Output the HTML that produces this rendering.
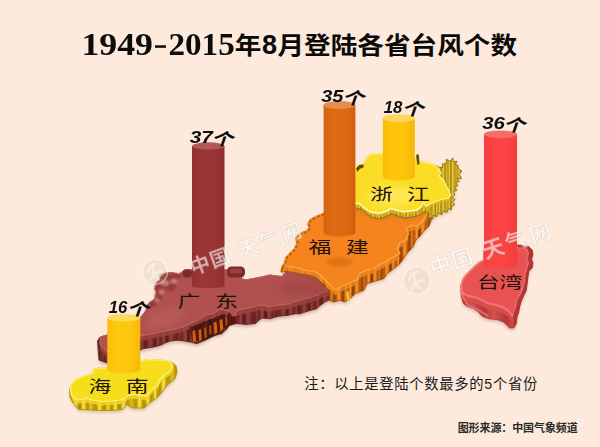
<!DOCTYPE html>
<html lang="zh"><head><meta charset="utf-8"><title>1949-2015年8月登陆各省台风个数</title>
<style>html,body{margin:0;padding:0;background:#fdeadc;}body{width:600px;height:447px;overflow:hidden;font-family:"Liberation Sans",sans-serif;}svg{display:block}text{font-family:"Liberation Sans",sans-serif}.ser{font-family:"Liberation Serif",serif}.cjk{font-family:"Liberation Sans","Noto Sans CJK SC",sans-serif}</style>
</head><body>
<svg width="600" height="447" viewBox="0 0 600 447" role="img" aria-label="1949-2015年8月登陆各省台风个数">
<defs>
<linearGradient id="rg_gd" x1="0" x2="1" y1="0" y2="0"><stop offset="0" stop-color="#6a2321"/><stop offset="0.45" stop-color="#9a4240"/><stop offset="0.75" stop-color="#7c2d2b"/><stop offset="1" stop-color="#6a2321"/></linearGradient>
<pattern id="rp_gd" width="7" height="40" patternUnits="userSpaceOnUse"><rect width="7" height="40" fill="url(#rg_gd)"/></pattern>
<linearGradient id="rg_fj" x1="0" x2="1" y1="0" y2="0"><stop offset="0" stop-color="#b04c08"/><stop offset="0.45" stop-color="#fa9a28"/><stop offset="0.75" stop-color="#dc6c10"/><stop offset="1" stop-color="#b04c08"/></linearGradient>
<pattern id="rp_fj" width="6" height="40" patternUnits="userSpaceOnUse"><rect width="6" height="40" fill="url(#rg_fj)"/></pattern>
<linearGradient id="rg_zj" x1="0" x2="1" y1="0" y2="0"><stop offset="0" stop-color="#ae8812"/><stop offset="0.45" stop-color="#f8dc3c"/><stop offset="0.75" stop-color="#d2aa1c"/><stop offset="1" stop-color="#ae8812"/></linearGradient>
<pattern id="rp_zj" width="3.2" height="40" patternUnits="userSpaceOnUse"><rect width="3.2" height="40" fill="url(#rg_zj)"/></pattern>
<linearGradient id="rg_hn" x1="0" x2="1" y1="0" y2="0"><stop offset="0" stop-color="#b48c00"/><stop offset="0.45" stop-color="#fbe84a"/><stop offset="0.75" stop-color="#d0a806"/><stop offset="1" stop-color="#b48c00"/></linearGradient>
<pattern id="rp_hn" width="8" height="40" patternUnits="userSpaceOnUse"><rect width="8" height="40" fill="url(#rg_hn)"/></pattern>
<linearGradient id="rg_tw" x1="0" x2="1" y1="0" y2="0"><stop offset="0" stop-color="#b83636"/><stop offset="0.45" stop-color="#d85050"/><stop offset="0.75" stop-color="#c44040"/><stop offset="1" stop-color="#b83636"/></linearGradient>
<pattern id="rp_tw" width="22" height="40" patternUnits="userSpaceOnUse"><rect width="22" height="40" fill="url(#rg_tw)"/></pattern>
<pattern id="rq_gd" width="11" height="40" patternUnits="userSpaceOnUse"><rect x="0" width="3.1" height="40" fill="#4e1513"/></pattern>
<pattern id="rq_fj" width="9.5" height="40" patternUnits="userSpaceOnUse"><rect x="0" width="2.7" height="40" fill="#6a2c04"/></pattern>
<pattern id="rq_zj" width="5" height="40" patternUnits="userSpaceOnUse"><rect x="0" width="1.4" height="40" fill="#5e4406"/></pattern>
<pattern id="rq_hn" width="13" height="40" patternUnits="userSpaceOnUse"><rect x="0" width="3.6" height="40" fill="#a88400"/></pattern>
<linearGradient id="cg_gd" x1="0" x2="1" y1="0" y2="0"><stop offset="0" stop-color="#943030"/><stop offset="0.3" stop-color="#9b3636"/><stop offset="0.7" stop-color="#9a3535"/><stop offset="1" stop-color="#902e2e"/></linearGradient>
<linearGradient id="cg_fj" x1="0" x2="1" y1="0" y2="0"><stop offset="0" stop-color="#d6640e"/><stop offset="0.3" stop-color="#de6a14"/><stop offset="0.7" stop-color="#dd6913"/><stop offset="1" stop-color="#d05e0c"/></linearGradient>
<linearGradient id="cg_zj" x1="0" x2="1" y1="0" y2="0"><stop offset="0" stop-color="#fabc08"/><stop offset="0.3" stop-color="#fec50c"/><stop offset="0.7" stop-color="#fdc40b"/><stop offset="1" stop-color="#f6b606"/></linearGradient>
<linearGradient id="cg_hn" x1="0" x2="1" y1="0" y2="0"><stop offset="0" stop-color="#fabe08"/><stop offset="0.3" stop-color="#fec80e"/><stop offset="0.7" stop-color="#fdc70d"/><stop offset="1" stop-color="#f6b806"/></linearGradient>
<linearGradient id="cg_tw" x1="0" x2="1" y1="0" y2="0"><stop offset="0" stop-color="#f63e3e"/><stop offset="0.3" stop-color="#fc4444"/><stop offset="0.7" stop-color="#fb4343"/><stop offset="1" stop-color="#f43c3c"/></linearGradient>
<filter id="b1" x="-20%" y="-20%" width="140%" height="140%"><feGaussianBlur stdDeviation="0.6"/></filter>
<filter id="b4" x="-30%" y="-30%" width="160%" height="160%"><feGaussianBlur stdDeviation="1.0"/></filter>
<filter id="b2" x="-20%" y="-20%" width="140%" height="140%"><feGaussianBlur stdDeviation="1.6"/></filter>
<filter id="b3" x="-30%" y="-30%" width="160%" height="160%"><feGaussianBlur stdDeviation="3"/></filter>
</defs>
<rect width="600" height="447" fill="#fdeadc"/>
<g>
<polygon points="100,337 107,335 141,317 146,310.5 147,305 152,301 155,298.5 157,293.5 155,288.5 157.5,282.5 161,277.5 165,273.5 172,272.5 178.5,274.5 182,272 185.5,269.5 192,269.5 210,270 226,269.5 245,280 253.5,278.5 263.5,276.5 270,275 277,276 282,276.5 290,268 310,270 325,280 333,289 333,297 328.5,300.3 325,302 320,305.4 316.8,308.7 310,310.4 305,312 300,313.8 295.5,313.7 287,315.4 278.7,316.2 270,318.8 262,318 258.9,320.2 255.5,323.5 247,324.4 235.4,323.5 230.3,323.5 227,328.6 222,333.6 213.5,335.3 205,340.3 196.8,343.7 190,342 184,341 177.2,340.2 170.5,341 165.5,342.8 160.5,345.3 153.8,347 143.7,348.6 140,350.3 130,356 115,362 107,363 99,360 97.5,341" fill="#6b3a30" opacity="0.30" filter="url(#b2)" transform="translate(0,2.5)"/>
<clipPath id="cl_gd"><polygon points="100,337 107,335 141,317 146,310.5 147,305 152,301 155,298.5 157,293.5 155,288.5 157.5,282.5 161,277.5 165,273.5 172,272.5 178.5,274.5 182,272 185.5,269.5 192,269.5 210,270 226,269.5 245,280 253.5,278.5 263.5,276.5 270,275 277,276 282,276.5 290,268 310,270 325,280 333,289 333,297 328.5,300.3 325,302 320,305.4 316.8,308.7 310,310.4 305,312 300,313.8 295.5,313.7 287,315.4 278.7,316.2 270,318.8 262,318 258.9,320.2 255.5,323.5 247,324.4 235.4,323.5 230.3,323.5 227,328.6 222,333.6 213.5,335.3 205,340.3 196.8,343.7 190,342 184,341 177.2,340.2 170.5,341 165.5,342.8 160.5,345.3 153.8,347 143.7,348.6 140,350.3 130,356 115,362 107,363 99,360 97.5,341"/></clipPath>
<polygon points="100,337 107,335 141,317 146,310.5 147,305 152,301 155,298.5 157,293.5 155,288.5 157.5,282.5 161,277.5 165,273.5 172,272.5 178.5,274.5 182,272 185.5,269.5 192,269.5 210,270 226,269.5 245,280 253.5,278.5 263.5,276.5 270,275 277,276 282,276.5 290,268 310,270 325,280 333,289 333,297 328.5,300.3 325,302 320,305.4 316.8,308.7 310,310.4 305,312 300,313.8 295.5,313.7 287,315.4 278.7,316.2 270,318.8 262,318 258.9,320.2 255.5,323.5 247,324.4 235.4,323.5 230.3,323.5 227,328.6 222,333.6 213.5,335.3 205,340.3 196.8,343.7 190,342 184,341 177.2,340.2 170.5,341 165.5,342.8 160.5,345.3 153.8,347 143.7,348.6 140,350.3 130,356 115,362 107,363 99,360 97.5,341" fill="url(#rp_gd)" stroke="#5e1f1d" stroke-width="0.8" stroke-linejoin="round"/>
<polygon points="100,337 107,335 141,317 146,310.5 147,305 152,301 155,298.5 157,293.5 155,288.5 157.5,282.5 161,277.5 165,273.5 172,272.5 178.5,274.5 182,272 185.5,269.5 192,269.5 210,270 226,269.5 245,280 253.5,278.5 263.5,276.5 270,275 277,276 282,276.5 290,268 310,270 325,280 333,289 333,297 328.5,300.3 325,302 320,305.4 316.8,308.7 310,310.4 305,312 300,313.8 295.5,313.7 287,315.4 278.7,316.2 270,318.8 262,318 258.9,320.2 255.5,323.5 247,324.4 235.4,323.5 230.3,323.5 227,328.6 222,333.6 213.5,335.3 205,340.3 196.8,343.7 190,342 184,341 177.2,340.2 170.5,341 165.5,342.8 160.5,345.3 153.8,347 143.7,348.6 140,350.3 130,356 115,362 107,363 99,360 97.5,341" fill="url(#rq_gd)" opacity="0.55"/>
<g clip-path="url(#cl_gd)"><polygon points="100,337 107,335 141,317 146,310.5 147,305 152,301 155,298.5 157,293.5 155,288.5 157.5,282.5 161,277.5 165,273.5 172,272.5 178.5,274.5 182,272 185.5,269.5 192,269.5 210,270 226,269.5 245,280 253.5,278.5 263.5,276.5 270,275 277,276 282,276.5 290,268 310,270 325,280 333,289 328.5,290.3 325,292 321.8,292 318.5,295.3 313.4,296 310,297.8 305,298.7 300,300.3 293.8,302 290.5,303.7 283.8,304.5 275.4,305.3 268.7,307 263.6,305.3 258.6,305.3 253.5,307 245,308.7 236.8,310.4 235.4,315.2 232,316 228.7,311.8 223.6,309.3 218.6,310 213.5,313.5 205,315 200,319.4 190,323.5 184,326.8 177.2,328.5 168.9,330.2 160.5,331.8 153.8,333.5 145.4,335.2 140,336 120,345 107,352 100,345" fill="#9c4440" opacity="0.85" transform="translate(0,5)"/></g>
<polygon points="100,337 107,335 141,317 146,310.5 147,305 152,301 155,298.5 157,293.5 155,288.5 157.5,282.5 161,277.5 165,273.5 172,272.5 178.5,274.5 182,272 185.5,269.5 192,269.5 210,270 226,269.5 245,280 253.5,278.5 263.5,276.5 270,275 277,276 282,276.5 290,268 310,270 325,280 333,289 328.5,290.3 325,292 321.8,292 318.5,295.3 313.4,296 310,297.8 305,298.7 300,300.3 293.8,302 290.5,303.7 283.8,304.5 275.4,305.3 268.7,307 263.6,305.3 258.6,305.3 253.5,307 245,308.7 236.8,310.4 235.4,315.2 232,316 228.7,311.8 223.6,309.3 218.6,310 213.5,313.5 205,315 200,319.4 190,323.5 184,326.8 177.2,328.5 168.9,330.2 160.5,331.8 153.8,333.5 145.4,335.2 140,336 120,345 107,352 100,345" fill="#b05150" stroke="#bd6862" stroke-width="1.0" stroke-linejoin="round"/>
<g clip-path="url(#cl_gd)"><ellipse cx="165" cy="318" rx="22" ry="9" fill="#c46a66" opacity="0.35" filter="url(#b3)" transform="rotate(-20 165 318)"/><ellipse cx="305" cy="288" rx="26" ry="9" fill="#8e3a38" opacity="0.30" filter="url(#b3)"/></g>
<rect x="227" y="266.5" width="18" height="11" rx="4.5" fill="#7c2a2a"/>
<rect x="230" y="268.5" width="12" height="5" rx="2.5" fill="#984040" filter="url(#b1)"/>
<rect x="182.5" y="269.5" width="9.5" height="8" rx="3.5" fill="#7c2a2a"/>
<g filter="url(#b4)" fill="#8a3230" opacity="0.7"><ellipse cx="166" cy="278" rx="6.5" ry="4.5"/><ellipse cx="160" cy="287" rx="5.5" ry="5.5"/><ellipse cx="176" cy="276.5" rx="5.5" ry="3.5"/><ellipse cx="158.5" cy="296" rx="4" ry="4"/><ellipse cx="171" cy="287" rx="5" ry="4"/><ellipse cx="153" cy="304" rx="3.5" ry="3"/></g>
<g filter="url(#b4)" fill="#d8a09a" opacity="0.6"><ellipse cx="165" cy="283" rx="4.5" ry="3"/><ellipse cx="174" cy="281" rx="3.5" ry="2.5"/><ellipse cx="161.5" cy="292" rx="3" ry="3"/><ellipse cx="157" cy="300" rx="2.5" ry="2"/></g>
<path d="M229,312 L233,317 L236,316 L236,324 L229,326 L226,330 L224,322 Z" fill="#571917" filter="url(#b1)"/>
<g filter="url(#b1)" fill="#3e0f0d" opacity="0.7"><path d="M190,327 l35,-13 l3,10 l-8,10 l-14,6 l-14,1 Z"/></g>
<g filter="url(#b1)" fill="#d4640e"><path d="M192.5,331 l2.6,-1 l1,11 l-3,1 Z"/><path d="M198.5,330 l2.6,-1 l0.6,11 l-2.6,1 Z"/><path d="M204,328 l2.2,-1 l0.6,10 l-2.2,1 Z" fill="#b85210"/><path d="M213.5,323 l3,-1.6 l1,11 l-3,2 Z"/><path d="M219.5,320 l2.8,-1 l1,10 l-3,3 Z"/><path d="M209,326 l2,-1 l0.5,9 l-2,1 Z" fill="#a8480e"/><path d="M225,317 l2,-0.6 l0.6,8 l-2,2 Z" fill="#b04a10"/></g>
</g>
<g>
<polygon points="323.4,213.4 317,216 310.3,219.3 307.8,223.5 309.4,227.7 306,231 299.4,233.6 296,237.8 296.8,243.6 294.3,248.7 290,252.9 286,257 284.3,263 281.7,267 281,272 291.8,271.5 300,273.5 310,275 318.5,279.4 325,286 329.4,291 329.4,300.3 333.6,302 340,300.3 344.5,302 348.7,299.5 355.4,293.6 363.8,290.3 367,283.6 375.5,281 384,278.5 387.2,273.5 394,268.5 400,263.4 404,258 408,252 413,247 416,240 420,236 424,231 429,226 432,218 430,205 400,200 360,196 340,205" fill="#8a5a30" opacity="0.30" filter="url(#b2)" transform="translate(0,2.5)"/>
<clipPath id="cl_fj"><polygon points="323.4,213.4 317,216 310.3,219.3 307.8,223.5 309.4,227.7 306,231 299.4,233.6 296,237.8 296.8,243.6 294.3,248.7 290,252.9 286,257 284.3,263 281.7,267 281,272 291.8,271.5 300,273.5 310,275 318.5,279.4 325,286 329.4,291 329.4,300.3 333.6,302 340,300.3 344.5,302 348.7,299.5 355.4,293.6 363.8,290.3 367,283.6 375.5,281 384,278.5 387.2,273.5 394,268.5 400,263.4 404,258 408,252 413,247 416,240 420,236 424,231 429,226 432,218 430,205 400,200 360,196 340,205"/></clipPath>
<polygon points="323.4,213.4 317,216 310.3,219.3 307.8,223.5 309.4,227.7 306,231 299.4,233.6 296,237.8 296.8,243.6 294.3,248.7 290,252.9 286,257 284.3,263 281.7,267 281,272 291.8,271.5 300,273.5 310,275 318.5,279.4 325,286 329.4,291 329.4,300.3 333.6,302 340,300.3 344.5,302 348.7,299.5 355.4,293.6 363.8,290.3 367,283.6 375.5,281 384,278.5 387.2,273.5 394,268.5 400,263.4 404,258 408,252 413,247 416,240 420,236 424,231 429,226 432,218 430,205 400,200 360,196 340,205" fill="url(#rp_fj)" stroke="#a04a08" stroke-width="0.8" stroke-linejoin="round"/>
<polygon points="323.4,213.4 317,216 310.3,219.3 307.8,223.5 309.4,227.7 306,231 299.4,233.6 296,237.8 296.8,243.6 294.3,248.7 290,252.9 286,257 284.3,263 281.7,267 281,272 291.8,271.5 300,273.5 310,275 318.5,279.4 325,286 329.4,291 329.4,300.3 333.6,302 340,300.3 344.5,302 348.7,299.5 355.4,293.6 363.8,290.3 367,283.6 375.5,281 384,278.5 387.2,273.5 394,268.5 400,263.4 404,258 408,252 413,247 416,240 420,236 424,231 429,226 432,218 430,205 400,200 360,196 340,205" fill="url(#rq_fj)" opacity="0.62"/>
<g clip-path="url(#cl_fj)"><polygon points="323.4,213.4 317,216 310.3,219.3 307.8,223.5 309.4,227.7 306,231 299.4,233.6 296,237.8 296.8,243.6 294.3,248.7 290,252.9 286,257 284.3,263 281.7,267 284.3,266 291.8,267 300,268.5 306.7,271 313.4,271 320,275 325,280 330,285 334.4,289.4 336,290 342,286 350.3,282.7 357,279.4 359.6,273.5 367,270 373.8,268.5 380.5,264.3 387,261 394,256.7 400,253.4 397.5,248.5 400,242.5 406,240 408.5,233.5 406,228.5 412.5,225 417.5,226 422.5,221 427,214 427,205 400,200 360,196 340,205" fill="#f08a20" opacity="0.8" transform="translate(0,5)"/></g>
<polygon points="323.4,213.4 317,216 310.3,219.3 307.8,223.5 309.4,227.7 306,231 299.4,233.6 296,237.8 296.8,243.6 294.3,248.7 290,252.9 286,257 284.3,263 281.7,267 284.3,266 291.8,267 300,268.5 306.7,271 313.4,271 320,275 325,280 330,285 334.4,289.4 336,290 342,286 350.3,282.7 357,279.4 359.6,273.5 367,270 373.8,268.5 380.5,264.3 387,261 394,256.7 400,253.4 397.5,248.5 400,242.5 406,240 408.5,233.5 406,228.5 412.5,225 417.5,226 422.5,221 427,214 427,205 400,200 360,196 340,205" fill="#f5841e" stroke="#ffa94a" stroke-width="1.2" stroke-linejoin="round"/>
<polyline points="323.4,213.4 317,216 310.3,219.3 307.8,223.5 309.4,227.7 306,231 299.4,233.6 296,237.8 296.8,243.6 294.3,248.7 290,252.9 286,257 284.3,263 281.7,267" fill="none" stroke="#b4560c" stroke-width="2.2" stroke-linejoin="round" stroke-dasharray="3.2 1.6" opacity="0.8" transform="translate(0.8,0.6)"/>
<ellipse cx="339.5" cy="262" rx="13" ry="4.5" fill="#c86010" opacity="0.45" filter="url(#b2)"/>
<path d="M346,293 l2.2,-3 l1.6,9 l-2.6,2 Z" fill="#f4c020" filter="url(#b1)"/>
</g>
<g>
<polygon points="352,172 355.4,168.5 357.6,165 361.8,164.3 365,161 366.8,156.7 371.8,154.2 378.5,153.4 382,153.7 400,155 415,157.6 420.5,161.8 429,162.6 435.3,165 438.9,167.2 442.8,167.5 442.2,163.8 446.2,163.7 446.4,159.2 449.9,161.2 453.1,157.8 453,161.5 457.2,161.2 455.1,164.6 458,165.2 458.5,168.6 461.8,171.1 459,174.2 461.5,178.5 456.9,178.3 459.2,181.3 455.7,182.8 458,185.7 454.6,187.3 457,190.2 453.6,191.5 454.8,195.1 452,197.7 455.3,199.5 452.6,201.6 454.6,205.1 451.3,206.1 451.5,209.8 448.2,208.6 447,212.5 443.3,210.9 441.8,214.7 438.1,212.8 436.9,216.7 432.9,215.4 433,219.1 431.2,218.3 427.5,217.3 429.2,213.8 427.2,212 423.8,212 418.8,215.5 412,217 405.4,218 398.7,216.3 392,213.8 385.3,217 378.5,218.8 371.8,217 366.8,213.8 361.8,209.6 355.4,207.9 352,206" fill="#8a7a30" opacity="0.30" filter="url(#b2)" transform="translate(0,2.5)"/>
<clipPath id="cl_zj"><polygon points="352,172 355.4,168.5 357.6,165 361.8,164.3 365,161 366.8,156.7 371.8,154.2 378.5,153.4 382,153.7 400,155 415,157.6 420.5,161.8 429,162.6 435.3,165 438.9,167.2 442.8,167.5 442.2,163.8 446.2,163.7 446.4,159.2 449.9,161.2 453.1,157.8 453,161.5 457.2,161.2 455.1,164.6 458,165.2 458.5,168.6 461.8,171.1 459,174.2 461.5,178.5 456.9,178.3 459.2,181.3 455.7,182.8 458,185.7 454.6,187.3 457,190.2 453.6,191.5 454.8,195.1 452,197.7 455.3,199.5 452.6,201.6 454.6,205.1 451.3,206.1 451.5,209.8 448.2,208.6 447,212.5 443.3,210.9 441.8,214.7 438.1,212.8 436.9,216.7 432.9,215.4 433,219.1 431.2,218.3 427.5,217.3 429.2,213.8 427.2,212 423.8,212 418.8,215.5 412,217 405.4,218 398.7,216.3 392,213.8 385.3,217 378.5,218.8 371.8,217 366.8,213.8 361.8,209.6 355.4,207.9 352,206"/></clipPath>
<polygon points="352,172 355.4,168.5 357.6,165 361.8,164.3 365,161 366.8,156.7 371.8,154.2 378.5,153.4 382,153.7 400,155 415,157.6 420.5,161.8 429,162.6 435.3,165 438.9,167.2 442.8,167.5 442.2,163.8 446.2,163.7 446.4,159.2 449.9,161.2 453.1,157.8 453,161.5 457.2,161.2 455.1,164.6 458,165.2 458.5,168.6 461.8,171.1 459,174.2 461.5,178.5 456.9,178.3 459.2,181.3 455.7,182.8 458,185.7 454.6,187.3 457,190.2 453.6,191.5 454.8,195.1 452,197.7 455.3,199.5 452.6,201.6 454.6,205.1 451.3,206.1 451.5,209.8 448.2,208.6 447,212.5 443.3,210.9 441.8,214.7 438.1,212.8 436.9,216.7 432.9,215.4 433,219.1 431.2,218.3 427.5,217.3 429.2,213.8 427.2,212 423.8,212 418.8,215.5 412,217 405.4,218 398.7,216.3 392,213.8 385.3,217 378.5,218.8 371.8,217 366.8,213.8 361.8,209.6 355.4,207.9 352,206" fill="url(#rp_zj)" stroke="#8a6808" stroke-width="0.8" stroke-linejoin="round"/>
<polygon points="352,172 355.4,168.5 357.6,165 361.8,164.3 365,161 366.8,156.7 371.8,154.2 378.5,153.4 382,153.7 400,155 415,157.6 420.5,161.8 429,162.6 435.3,165 438.9,167.2 442.8,167.5 442.2,163.8 446.2,163.7 446.4,159.2 449.9,161.2 453.1,157.8 453,161.5 457.2,161.2 455.1,164.6 458,165.2 458.5,168.6 461.8,171.1 459,174.2 461.5,178.5 456.9,178.3 459.2,181.3 455.7,182.8 458,185.7 454.6,187.3 457,190.2 453.6,191.5 454.8,195.1 452,197.7 455.3,199.5 452.6,201.6 454.6,205.1 451.3,206.1 451.5,209.8 448.2,208.6 447,212.5 443.3,210.9 441.8,214.7 438.1,212.8 436.9,216.7 432.9,215.4 433,219.1 431.2,218.3 427.5,217.3 429.2,213.8 427.2,212 423.8,212 418.8,215.5 412,217 405.4,218 398.7,216.3 392,213.8 385.3,217 378.5,218.8 371.8,217 366.8,213.8 361.8,209.6 355.4,207.9 352,206" fill="url(#rq_zj)" opacity="0.28"/>
<g clip-path="url(#cl_zj)"><polygon points="352,172 355.4,168.5 357.6,165 361.8,164.3 365,161 366.8,156.7 371.8,154.2 378.5,153.4 382,153.7 400,155 415,157.6 420.5,161.8 429,162.6 435.3,165 438.5,169 441,173 439,176 443,179.5 446,185.5 449,190.5 450.5,195.5 447.5,198.5 441,199.5 436,201.5 430,204 426,206.5 423.8,202.9 421.3,206.2 417,209.6 412,210.4 403.7,211.3 395.3,209.6 392,207.9 385.3,211.3 378.5,213 370,211.3 365,207.9 360,203.7 355.4,202.9 352,200" fill="#e8bc18" opacity="0.6" transform="translate(0,3)"/></g>
<polygon points="352,172 355.4,168.5 357.6,165 361.8,164.3 365,161 366.8,156.7 371.8,154.2 378.5,153.4 382,153.7 400,155 415,157.6 420.5,161.8 429,162.6 435.3,165 438.5,169 441,173 439,176 443,179.5 446,185.5 449,190.5 450.5,195.5 447.5,198.5 441,199.5 436,201.5 430,204 426,206.5 423.8,202.9 421.3,206.2 417,209.6 412,210.4 403.7,211.3 395.3,209.6 392,207.9 385.3,211.3 378.5,213 370,211.3 365,207.9 360,203.7 355.4,202.9 352,200" fill="#fbdd28" stroke="#fff48a" stroke-width="1.2" stroke-linejoin="round"/>
<polyline points="421.3,206.79999999999998 417,210.2 412,211.0 403.7,211.9 395.3,210.2 392,208.5 385.3,211.9 378.5,213.6 370,211.9 365,208.5 360,204.29999999999998 355.4,203.5 352,200.6" fill="none" stroke="#fffbd0" stroke-width="1.1" opacity="0.9" stroke-linejoin="round"/>
<ellipse cx="392" cy="196" rx="24" ry="9" fill="#fff27a" opacity="0.55" filter="url(#b3)"/>
<path d="M356,169 q3,-6 8,-4 l-1,3 q-4,0 -5,4 Z" fill="#6a4a08"/>
<path d="M416,156 q2,-4 3,0 l0.5,8 l-2,1 Z" fill="#6a4a08"/>
</g>
<g>
<polygon points="106.5,368 98.5,368 92.5,369.5 94,373 83,376.5 75,380 71,384.5 69.5,390.5 70,397 72.5,402 78.5,409.3 90,410 102,410.5 113.7,410.5 123,409.3 126.6,404.6 132.5,408 144.3,408 149,403.4 158.4,396.4 163,390.5 167.8,384.6 174.8,378.8 177.2,371.7 176,365.8 172.5,362.3 165.5,360.5 156,360 149,359.5 140.5,361" fill="#8a7a30" opacity="0.30" filter="url(#b2)" transform="translate(0,2.5)"/>
<clipPath id="cl_hn"><polygon points="106.5,368 98.5,368 92.5,369.5 94,373 83,376.5 75,380 71,384.5 69.5,390.5 70,397 72.5,402 78.5,409.3 90,410 102,410.5 113.7,410.5 123,409.3 126.6,404.6 132.5,408 144.3,408 149,403.4 158.4,396.4 163,390.5 167.8,384.6 174.8,378.8 177.2,371.7 176,365.8 172.5,362.3 165.5,360.5 156,360 149,359.5 140.5,361"/></clipPath>
<polygon points="106.5,368 98.5,368 92.5,369.5 94,373 83,376.5 75,380 71,384.5 69.5,390.5 70,397 72.5,402 78.5,409.3 90,410 102,410.5 113.7,410.5 123,409.3 126.6,404.6 132.5,408 144.3,408 149,403.4 158.4,396.4 163,390.5 167.8,384.6 174.8,378.8 177.2,371.7 176,365.8 172.5,362.3 165.5,360.5 156,360 149,359.5 140.5,361" fill="url(#rp_hn)" stroke="#a88a00" stroke-width="0.8" stroke-linejoin="round"/>
<polygon points="106.5,368 98.5,368 92.5,369.5 94,373 83,376.5 75,380 71,384.5 69.5,390.5 70,397 72.5,402 78.5,409.3 90,410 102,410.5 113.7,410.5 123,409.3 126.6,404.6 132.5,408 144.3,408 149,403.4 158.4,396.4 163,390.5 167.8,384.6 174.8,378.8 177.2,371.7 176,365.8 172.5,362.3 165.5,360.5 156,360 149,359.5 140.5,361" fill="url(#rq_hn)" opacity="0.45"/>
<g clip-path="url(#cl_hn)"><polygon points="106.5,368 98.5,368 92.5,369.5 94,373 83,376.5 75,380 71,384.5 70.3,390.5 72.5,396.5 77.5,400 85.5,398.5 92.5,400 102,401.5 111.5,401 121,400 125.5,397.5 130,394.5 139.5,395 145.5,396.5 149,393 153.5,388 158.5,384.5 159.5,380 164,375 170,371.5 172.5,367 171.5,362.5 165.5,360.5 156,360 149,359.5 140.5,361" fill="#f4d824" opacity="0.8" transform="translate(0,4)"/></g>
<polygon points="106.5,368 98.5,368 92.5,369.5 94,373 83,376.5 75,380 71,384.5 70.3,390.5 72.5,396.5 77.5,400 85.5,398.5 92.5,400 102,401.5 111.5,401 121,400 125.5,397.5 130,394.5 139.5,395 145.5,396.5 149,393 153.5,388 158.5,384.5 159.5,380 164,375 170,371.5 172.5,367 171.5,362.5 165.5,360.5 156,360 149,359.5 140.5,361" fill="#f6de1c" stroke="#fff47a" stroke-width="1.2" stroke-linejoin="round"/>
</g>
<g>
<polygon points="484,250 500,245 518,245 523.8,245.4 528.9,246.7 532.2,250 533,255 531.4,259.3 533,262.7 532.2,267.7 528.9,271 528,277 527.2,283.7 526.3,290.4 523.8,295.4 521.3,301.3 519.6,307 518.8,312 517,317 516.3,323.7 513.8,327.9 509.6,327.9 507,325.4 503.7,322 497,319.5 488.6,318.7 481.9,316 478.5,312 473.5,308.6 466.8,306 463.4,303.6 461.4,296.8 460.4,286.8 461.7,283.7 463.4,278.6 466.8,274.4 471,270.2 475.2,266 479.4,262.7 484,260" fill="#8a4a40" opacity="0.30" filter="url(#b2)" transform="translate(0,2.5)"/>
<clipPath id="cl_tw"><polygon points="484,250 500,245 518,245 523.8,245.4 528.9,246.7 532.2,250 533,255 531.4,259.3 533,262.7 532.2,267.7 528.9,271 528,277 527.2,283.7 526.3,290.4 523.8,295.4 521.3,301.3 519.6,307 518.8,312 517,317 516.3,323.7 513.8,327.9 509.6,327.9 507,325.4 503.7,322 497,319.5 488.6,318.7 481.9,316 478.5,312 473.5,308.6 466.8,306 463.4,303.6 461.4,296.8 460.4,286.8 461.7,283.7 463.4,278.6 466.8,274.4 471,270.2 475.2,266 479.4,262.7 484,260"/></clipPath>
<polygon points="484,250 500,245 518,245 523.8,245.4 528.9,246.7 532.2,250 533,255 531.4,259.3 533,262.7 532.2,267.7 528.9,271 528,277 527.2,283.7 526.3,290.4 523.8,295.4 521.3,301.3 519.6,307 518.8,312 517,317 516.3,323.7 513.8,327.9 509.6,327.9 507,325.4 503.7,322 497,319.5 488.6,318.7 481.9,316 478.5,312 473.5,308.6 466.8,306 463.4,303.6 461.4,296.8 460.4,286.8 461.7,283.7 463.4,278.6 466.8,274.4 471,270.2 475.2,266 479.4,262.7 484,260" fill="url(#rp_tw)" stroke="#a83232" stroke-width="0.8" stroke-linejoin="round"/>
<g clip-path="url(#cl_tw)"><polygon points="484,252 500,247 518,247.6 523.8,247.6 527.5,249.3 528.9,253.5 527.2,258.5 528.9,262.7 527.2,268.6 525.5,273.6 524.7,282 523,288.7 520.5,294.6 517,300.4 516.3,305.5 514.6,310.3 513,316 511.2,314.5 508.7,311 503.7,307.8 497,305.2 488.6,303.6 483.6,301 476.8,297.7 468.5,296 462.6,293.5 461,288.5 461.7,283.7 463.4,278.6 466.8,274.4 471,270.2 475.2,266 479.4,262.7 484,260" fill="#dc4e4e" opacity="0.9" transform="translate(0,6)"/></g>
<polygon points="484,252 500,247 518,247.6 523.8,247.6 527.5,249.3 528.9,253.5 527.2,258.5 528.9,262.7 527.2,268.6 525.5,273.6 524.7,282 523,288.7 520.5,294.6 517,300.4 516.3,305.5 514.6,310.3 513,316 511.2,314.5 508.7,311 503.7,307.8 497,305.2 488.6,303.6 483.6,301 476.8,297.7 468.5,296 462.6,293.5 461,288.5 461.7,283.7 463.4,278.6 466.8,274.4 471,270.2 475.2,266 479.4,262.7 484,260" fill="#e85252" stroke="#f07874" stroke-width="2.0" stroke-linejoin="round"/>
<polygon points="518,245 523.8,245.4 528.9,246.7 532.2,250 533,255 531.4,259.3 533,262.7 532.2,267.7 528.9,271 528,277 527.2,283.7 526.3,290.4 523.8,295.4 521.3,301.3 519.6,307 518.8,312 517,317 516.3,323.7 513.8,327.9 513,316 514.6,310.3 516.3,305.5 517,300.4 520.5,294.6 523,288.7 524.7,282 525.5,273.6 527.2,268.6 528.9,262.7 527.2,258.5 528.9,253.5 527.5,249.3 523.8,247.6 518,247.6" fill="#ae3232" opacity="0.85"/>
<path d="M461.5,287 L462.5,296 L468,305 L480,311 L488,316" fill="none" stroke="#f08a86" stroke-width="2.2" opacity="0.55" filter="url(#b1)" stroke-linecap="round"/>
</g>
<g>
<path d="M192,146 L192,286.5 A16.2,1.5 0 0 0 224.5,286.5 L224.5,146 Z" fill="url(#cg_gd)" opacity="1"/>
<ellipse cx="208.2" cy="146" rx="16.2" ry="3.7" fill="#b25a58"/>
</g>
<g>
<path d="M323.6,105 L323.6,232.5 A15.9,4 0 0 0 355.4,232.5 L355.4,105 Z" fill="url(#cg_fj)" opacity="1"/>
<ellipse cx="339.5" cy="105" rx="15.9" ry="4" fill="#e58e50"/>
</g>
<g>
<path d="M382.8,118.2 L382.8,176.5 A16,4 0 0 0 414.8,176.5 L414.8,118.2 Z" fill="url(#cg_zj)" opacity="1"/>
<ellipse cx="398.8" cy="118.2" rx="16" ry="4" fill="#fdd65c"/>
</g>
<g>
<path d="M107.3,317.8 L107.3,369.5 A16.5,4 0 0 0 140.3,369.5 L140.3,317.8 Z" fill="url(#cg_hn)" opacity="1"/>
<ellipse cx="123.8" cy="317.8" rx="16.5" ry="3.8" fill="#fdda5e"/>
</g>
<g>
<path d="M484,134.3 L484,266 A16.5,2 0 0 0 517,266 L517,134.3 Z" fill="url(#cg_tw)" opacity="1"/>
<ellipse cx="500.5" cy="134.3" rx="16.5" ry="3.8" fill="#fa6c68"/>
</g>
<text class="cjk" transform="translate(177.5,307.2) scale(1.4,1)" x="0 27" y="0" font-size="16.3" fill="#1f1208">广东</text>
<text class="cjk" transform="translate(308.5,253.4) scale(1.4,1)" x="0 26.8" y="0" font-size="16.3" fill="#1f1208">福建</text>
<text class="cjk" transform="translate(370,199.5) scale(1.4,1)" x="0 26.5" y="0" font-size="16.3" fill="#1f1208">浙江</text>
<text class="cjk" transform="translate(88.5,392) scale(1.4,1)" x="0 26.6" y="0" font-size="16.3" fill="#1f1208">海南</text>
<text class="cjk" transform="translate(477,288.3) scale(1.4,1)" x="0 16" y="0" font-size="16.3" fill="#1f1208">台湾</text>
<text x="189.7" y="142.5" font-size="16.4" font-weight="bold" font-style="italic" fill="#0b0b0b" opacity="0.99" textLength="23.1" lengthAdjust="spacingAndGlyphs">37</text>
<text class="cjk" transform="translate(211,144.5) scale(1.35,1)" font-size="16.4" font-weight="bold" font-style="italic" fill="#0b0b0b">个</text>
<text x="321.2" y="101.5" font-size="16.4" font-weight="bold" font-style="italic" fill="#0b0b0b" opacity="0.99" textLength="22.1" lengthAdjust="spacingAndGlyphs">35</text>
<text class="cjk" transform="translate(342,103.5) scale(1.35,1)" font-size="16.4" font-weight="bold" font-style="italic" fill="#0b0b0b">个</text>
<text x="383.7" y="112.5" font-size="16.4" font-weight="bold" font-style="italic" fill="#0b0b0b" opacity="0.99" textLength="18.6" lengthAdjust="spacingAndGlyphs">18</text>
<text class="cjk" transform="translate(401.5,114.5) scale(1.35,1)" font-size="16.4" font-weight="bold" font-style="italic" fill="#0b0b0b">个</text>
<text x="482.2" y="128.5" font-size="16.4" font-weight="bold" font-style="italic" fill="#0b0b0b" opacity="0.99" textLength="22.6" lengthAdjust="spacingAndGlyphs">36</text>
<text class="cjk" transform="translate(503,130.5) scale(1.35,1)" font-size="16.4" font-weight="bold" font-style="italic" fill="#0b0b0b">个</text>
<text x="108.7" y="312.5" font-size="16.4" font-weight="bold" font-style="italic" fill="#0b0b0b" opacity="0.99" textLength="18.6" lengthAdjust="spacingAndGlyphs">16</text>
<text class="cjk" transform="translate(126.5,314.5) scale(1.35,1)" font-size="16.4" font-weight="bold" font-style="italic" fill="#0b0b0b">个</text>
<g>
<g transform="translate(155,272) rotate(-19.5)">
<circle cx="0" cy="0" r="12.5" fill="#b9a595" fill-opacity="0.16" stroke="#fff" stroke-opacity="0.42" stroke-width="1.6"/>
<path d="M-6.9,-1.9 q3.8,-6.9 9.4,-5.6 M-6.9,6.2 q6.2,-6.9 13.1,-4.4 M0,-6.9 q-4.4,7.5 1.2,15" fill="none" stroke="#fff" stroke-opacity="0.45" stroke-width="2.6" stroke-linecap="round"/>
</g>
<g transform="translate(200,264.5) rotate(-19.5)" opacity="0.6">
<text class="cjk" x="-10 11 41.5 63.4 87" y="7.5" font-size="20" font-weight="bold" fill="#fff" stroke="#9a8a80" stroke-opacity="0.35" stroke-width="0.7">中国天气网</text>
</g></g>
<g>
<g transform="translate(416.8,280.5) rotate(-18)">
<circle cx="0" cy="0" r="13.4" fill="#b9a595" fill-opacity="0.16" stroke="#fff" stroke-opacity="0.42" stroke-width="1.6"/>
<path d="M-7.4,-2 q4,-7.4 10.1,-6 M-7.4,6.7 q6.7,-7.4 14.1,-4.7 M0,-7.4 q-4.7,8 1.3,16.1" fill="none" stroke="#fff" stroke-opacity="0.45" stroke-width="2.6" stroke-linecap="round"/>
</g>
<g transform="translate(440.3,265.2) rotate(-18)" opacity="0.6">
<text class="cjk" x="-10.75 12.1 45 68.6 94" y="8" font-size="21.5" font-weight="bold" fill="#fff" stroke="#9a8a80" stroke-opacity="0.35" stroke-width="0.7">中国天气网</text>
</g></g>
<text class="ser" transform="translate(81.4,54.6) scale(1.11,1)" font-size="31" font-weight="bold" fill="#0a0a0a" opacity="0.99" textLength="64.4" lengthAdjust="spacingAndGlyphs">1949</text>
<text class="ser" transform="translate(168.4,54.6) scale(1.11,1)" font-size="31" font-weight="bold" fill="#0a0a0a" opacity="0.99" textLength="59.8" lengthAdjust="spacingAndGlyphs">2015</text>
<rect x="155" y="45.3" width="11" height="2.5" fill="#0a0a0a"/>
<text class="cjk" transform="translate(234.8,54.3) scale(1.11,1)" font-size="24" font-weight="bold" fill="#0a0a0a">年</text>
<text x="261.9" y="54.1" font-size="27" font-weight="bold" fill="#0a0a0a" style="font-family:'Liberation Sans',sans-serif">8</text>
<text class="cjk" transform="translate(277.4,54.3) scale(1.11,1)" font-size="24" font-weight="bold" fill="#0a0a0a">月登陆各省台风个数</text>
<text class="cjk" x="304.3" y="388.5" font-size="14.3" fill="#1a1a1a" textLength="233" lengthAdjust="spacing">注：以上是登陆个数最多的5个省份</text>
<text class="cjk" x="457.7" y="432.2" font-size="11" font-weight="bold" fill="#2a2a2a" textLength="120" lengthAdjust="spacing">图形来源：中国气象频道</text>
</svg>
</body></html>
